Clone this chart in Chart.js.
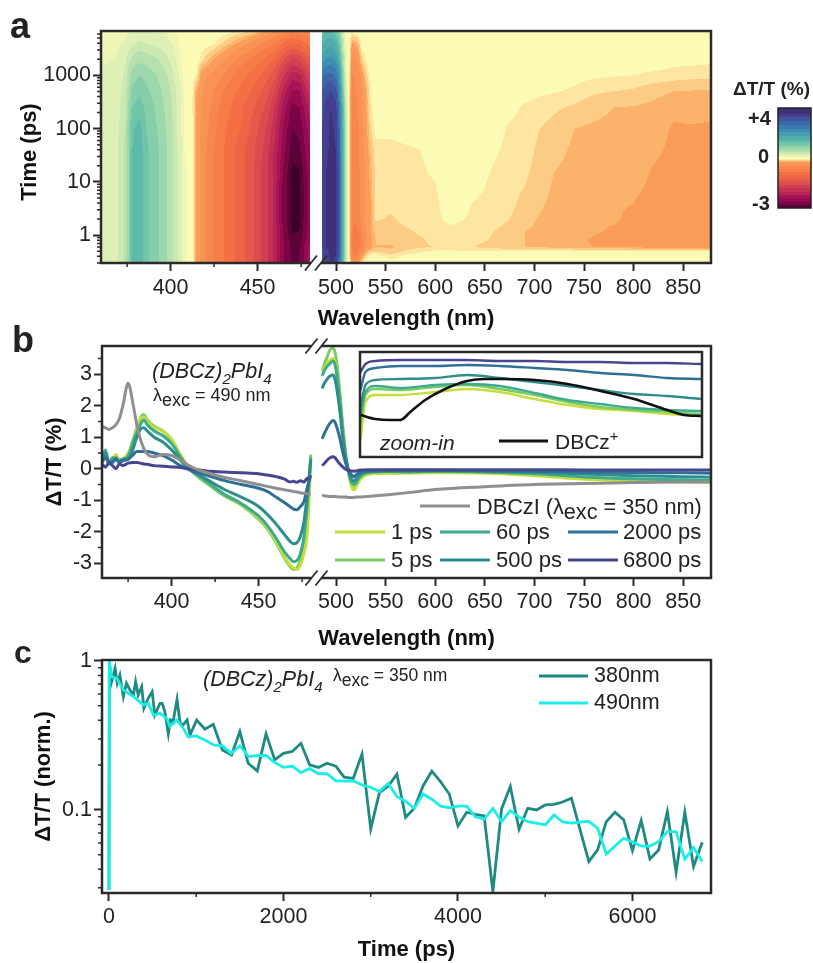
<!DOCTYPE html>
<html>
<head>
<meta charset="utf-8">
<title>Transient absorption of (DBCz)2PbI4</title>
<script src="https://cdn.jsdelivr.net/npm/chart.js@4"></script>
<style>
html, body { margin: 0; padding: 0; background: #fff; }
#page { position: relative; width: 813px; height: 963px; overflow: hidden; font-family: "Liberation Sans", Arial, sans-serif; color: #222; filter: blur(0.4px); }
canvas { position: absolute; }
.lbl { position: absolute; white-space: nowrap; transform: translateY(-50%); line-height: 1; }
.swatch { position: absolute; height: 3px; transform: translateY(-50%); }
sub, sup { line-height: 0; font-size: 70%; }
</style>
</head>
<body>
<div id="page">
  <canvas id="heatChart" width="813" height="332" style="left:0;top:0"></canvas>
  <canvas id="spectraChart" width="813" height="322" style="left:0;top:330px"></canvas>
  <canvas id="insetChart" width="346" height="109" style="left:358px;top:350px"></canvas>
  <canvas id="kineticsChart" width="813" height="318" style="left:0;top:645px"></canvas>
</div>
<script>
// Panel a: time-wavelength map, each row of heatRows is one wavelength at all heatTimes
const heatTimes = [0.3, 0.42, 0.5, 0.6, 0.8, 1.2, 2, 4, 8, 15, 40, 100, 250, 500, 1000, 2000, 4000, 6800];
const heatWave = [360, 368, 374, 378, 382, 386, 390, 395, 400, 404, 408, 412, 415, 418, 425, 432, 440, 448, 455, 460, 465, 470, 474, 480,
    486, 490, 495, 500, 503, 506, 509, 512, 514, 516, 518, 522, 526, 530, 535, 540, 555, 570, 585, 600, 615, 630, 645, 660, 675, 690, 705, 720, 740, 760, 780, 800, 820, 840, 860, 878];
const heatRows = [
    [.22, .22, .22, .22, .22, .22, .22, .22, .22, .22, .22, .22, .22, .22, .22, .18, .15, .12],
    [.26, .26, .26, .26, .26, .26, .26, .26, .26, .26, .26, .26, .25, .25, .24, .2, .15, .12],
    [.55, .55, .55, .55, .55, .55, .55, .55, .55, .55, .55, .5, .45, .42, .38, .32, .22, .15],
    [1.3, 1.3, 1.3, 1.3, 1.3, 1.3, 1.3, 1.3, 1.3, 1.3, 1.3, 1.25, 1.1, .95, .8, .55, .32, .2],
    [1.45, 1.45, 1.45, 1.45, 1.45, 1.45, 1.45, 1.45, 1.45, 1.45, 1.45, 1.4, 1.2, 1.05, .9, .65, .38, .22],
    [1.15, 1.15, 1.15, 1.15, 1.15, 1.15, 1.15, 1.15, 1.15, 1.15, 1.15, 1.1, 1.05, .95, .85, .6, .35, .2],
    [1.0, 1.0, 1.0, 1.0, 1.0, 1.0, 1.0, 1.0, 1.0, 1.0, 1.0, .98, .92, .85, .75, .55, .32, .18],
    [.85, .85, .85, .85, .85, .85, .85, .85, .85, .85, .85, .8, .75, .7, .62, .45, .28, .18],
    [.6, .6, .6, .6, .6, .6, .6, .6, .6, .6, .6, .58, .55, .5, .42, .32, .22, .15],
    [.35, .35, .35, .35, .35, .35, .35, .35, .35, .35, .35, .33, .32, .3, .25, .18, .12, .08],
    [.12, .12, .12, .12, .12, .12, .12, .12, .12, .12, .1, .09, .08, .07, .05, .02, .01, .01],
    [.02, .02, .02, .02, .02, .02, .02, .01, .01, .01, .01, .01, 0, 0, 0, 0, 0, 0],
    [-.22, -.22, -.22, -.22, -.22, -.22, -.22, -.22, -.22, -.22, -.22, -.22, -.22, -.2, -.05, 0, 0, 0],
    [-.36, -.36, -.36, -.36, -.36, -.36, -.36, -.36, -.36, -.36, -.36, -.34, -.32, -.3, -.25, -.07, 0, 0],
    [-.6, -.6, -.6, -.6, -.6, -.6, -.6, -.6, -.6, -.6, -.6, -.55, -.52, -.45, -.35, -.2, -.03, 0],
    [-.85, -.85, -.85, -.85, -.85, -.85, -.85, -.85, -.85, -.85, -.85, -.8, -.72, -.65, -.5, -.32, -.12, -.01],
    [-1.1, -1.1, -1.1, -1.1, -1.1, -1.1, -1.1, -1.1, -1.1, -1.1, -1.1, -1.0, -.95, -.85, -.7, -.5, -.22, -.05],
    [-1.4, -1.4, -1.4, -1.4, -1.4, -1.4, -1.4, -1.4, -1.4, -1.4, -1.38, -1.3, -1.2, -1.05, -.9, -.65, -.35, -.1],
    [-1.75, -1.75, -1.75, -1.75, -1.75, -1.75, -1.75, -1.75, -1.75, -1.75, -1.7, -1.6, -1.45, -1.3, -1.1, -.85, -.5, -.2],
    [-2.1, -2.1, -2.1, -2.1, -2.1, -2.1, -2.1, -2.1, -2.1, -2.1, -2.05, -1.95, -1.8, -1.6, -1.35, -1.0, -.6, -.3],
    [-2.6, -2.6, -2.6, -2.6, -2.6, -2.65, -2.7, -2.7, -2.7, -2.65, -2.55, -2.45, -2.3, -2.1, -1.8, -1.4, -.85, -.4],
    [-2.85, -2.85, -2.85, -2.9, -2.9, -2.97, -3, -3, -3, -3, -2.9, -2.8, -2.65, -2.45, -2.1, -1.65, -1.0, -.5],
    [-2.8, -2.8, -2.8, -2.85, -2.9, -2.95, -3, -3, -3, -2.97, -2.85, -2.75, -2.6, -2.4, -2.05, -1.55, -.95, -.5],
    [-2.3, -2.3, -2.3, -2.3, -2.4, -2.5, -2.5, -2.5, -2.5, -2.5, -2.4, -2.3, -2.1, -1.85, -1.6, -1.2, -.7, -.4],
    [3.0, 3.1, 3.2, 3.3, 3.3, 3.3, 3.3, 3.3, 3.3, 3.3, 3.3, 3.3, 3.2, 3.0, 2.6, 1.9, 1.5, 1.2],
    [3.4, 3.5, 3.5, 3.6, 3.6, 3.6, 3.6, 3.6, 3.6, 3.6, 3.5, 3.5, 3.4, 3.2, 2.8, 2.1, 1.6, 1.3],
    [3.6, 3.7, 3.7, 3.8, 3.8, 3.8, 3.8, 3.8, 3.8, 3.8, 3.7, 3.7, 3.6, 3.3, 2.8, 2.2, 1.7, 1.3],
    [3.5, 3.6, 3.7, 3.7, 3.7, 3.7, 3.7, 3.7, 3.7, 3.7, 3.6, 3.5, 3.4, 3.1, 2.6, 2.0, 1.5, 1.1],
    [2.8, 2.95, 2.95, 2.95, 2.95, 2.95, 2.95, 2.95, 2.95, 2.95, 2.9, 2.9, 2.7, 2.4, 2.1, 1.6, 1.2, .9],
    [1.6, 1.9, 1.9, 1.9, 1.9, 1.9, 1.9, 1.9, 1.9, 1.9, 1.9, 1.85, 1.7, 1.4, 1.2, .9, .65, .4],
    [.6, .8, .8, .8, .8, .8, .8, .8, .8, .8, .8, .78, .7, .5, .4, .3, .2, .12],
    [.03, .04, .05, .05, .05, .05, .05, .05, .05, .05, .05, .05, .05, .04, .03, .02, .02, .01],
    [-.02, -.1, -.12, -.12, -.12, -.1, -.1, -.1, -.1, -.1, -.1, -.1, -.1, -.09, -.07, -.04, -.01, 0],
    [-.25, -.45, -.5, -.55, -.55, -.52, -.5, -.5, -.5, -.5, -.5, -.5, -.5, -.48, -.45, -.38, -.2, -.02],
    [-.4, -.6, -.7, -.75, -.75, -.7, -.55, -.55, -.55, -.55, -.55, -.55, -.52, -.5, -.45, -.38, -.2, 0],
    [-.3, -.5, -.6, -.7, -.7, -.6, -.55, -.5, -.5, -.5, -.5, -.48, -.45, -.42, -.38, -.3, -.15, 0],
    [-.05, -.3, -.4, -.5, -.5, -.45, -.4, -.38, -.38, -.38, -.36, -.35, -.33, -.3, -.25, -.1, 0, 0],
    [0, -.1, -.2, -.3, -.3, -.3, -.28, -.28, -.28, -.27, -.26, -.24, -.22, -.2, -.12, -.03, 0, 0],
    [0, -.03, -.12, -.22, -.22, -.2, -.2, -.2, -.18, -.17, -.14, -.09, -.05, -.03, 0, 0, 0, 0],
    [0, -.02, -.1, -.15, -.15, -.13, -.08, -.07, -.07, -.07, -.06, -.02, 0, 0, 0, 0, 0, 0],
    [0, -.08, -.14, -.16, -.13, -.12, -.1, -.07, -.07, -.07, -.06, -.02, 0, 0, 0, 0, 0, 0],
    [0, -.03, -.08, -.12, -.11, -.1, -.07, -.06, -.06, -.06, -.05, -.01, 0, 0, 0, 0, 0, 0],
    [0, -.02, -.05, -.1, -.1, -.08, -.06, -.06, -.06, -.05, -.04, -.01, 0, 0, 0, 0, 0, 0],
    [0, -.01, -.03, -.09, -.07, -.06, -.05, -.05, -.045, -.03, -.01, 0, 0, 0, 0, 0, 0, 0],
    [0, -.01, -.03, -.09, -.06, -.05, -.03, -.01, 0, 0, 0, 0, 0, 0, 0, 0, 0, 0],
    [0, -.01, -.04, -.07, -.06, -.05, -.04, -.03, -.01, 0, 0, 0, 0, 0, 0, 0, 0, 0],
    [0, -.01, -.04, -.1, -.08, -.07, -.06, -.05, -.03, -.02, -.01, 0, 0, 0, 0, 0, 0, 0],
    [0, -.01, -.04, -.11, -.1, -.09, -.07, -.06, -.06, -.05, -.03, -.01, 0, 0, 0, 0, 0, 0],
    [0, -.01, -.04, -.13, -.12, -.11, -.09, -.07, -.07, -.06, -.06, -.05, -.02, 0, 0, 0, 0, 0],
    [0, -.01, -.03, -.15, -.15, -.15, -.13, -.11, -.09, -.08, -.07, -.06, -.05, -.01, 0, 0, 0, 0],
    [0, -.01, -.03, -.16, -.16, -.16, -.155, -.14, -.12, -.11, -.1, -.09, -.06, -.03, 0, 0, 0, 0],
    [0, -.01, -.03, -.17, -.17, -.17, -.17, -.165, -.16, -.15, -.13, -.11, -.08, -.035, -.01, 0, 0, 0],
    [0, -.01, -.03, -.18, -.18, -.18, -.18, -.18, -.17, -.17, -.16, -.15, -.1, -.05, -.02, 0, 0, 0],
    [0, -.01, -.03, -.2, -.21, -.19, -.19, -.18, -.18, -.18, -.17, -.16, -.13, -.08, -.03, 0, 0, 0],
    [0, -.01, -.03, -.21, -.22, -.21, -.19, -.19, -.18, -.18, -.17, -.165, -.15, -.09, -.035, -.01, 0, 0],
    [0, -.01, -.03, -.22, -.23, -.22, -.22, -.2, -.19, -.18, -.18, -.17, -.155, -.1, -.04, -.01, 0, 0],
    [0, -.01, -.03, -.23, -.24, -.24, -.23, -.22, -.21, -.205, -.19, -.18, -.165, -.13, -.05, -.01, 0, 0],
    [0, -.01, -.03, -.24, -.24, -.24, -.24, -.23, -.23, -.22, -.21, -.205, -.19, -.15, -.06, -.02, 0, 0],
    [0, -.01, -.03, -.24, -.25, -.25, -.24, -.24, -.23, -.23, -.22, -.205, -.18, -.155, -.07, -.02, 0, 0],
    [0, -.01, -.03, -.25, -.25, -.25, -.25, -.24, -.24, -.23, -.22, -.21, -.18, -.155, -.075, -.025, 0, 0]
];
const bandEdges = [-2.95, -2.8, -2.6, -2.4, -2.2, -2, -1.8, -1.6, -1.4, -1.2, -1, -.8, -.6, -.45, -.3, -.2, -.15, -.09, -.04, .1, .2, .35, .5, .7, .9, 1.1, 1.3, 1.5, 1.8, 2.1, 2.4, 2.7, 3, 3.3, 3.6];
const bandColors = ["#3C0029", "#5B0238", "#7B0446", "#960A50", "#A81556", "#B72257", "#C53055", "#D23F52", "#DC4C4E", "#E5584A", "#EE6545", "#F47044", "#F67C48", "#F8874D", "#F99253", "#FA9D5A", "#FBB26B", "#FCCB85", "#FDE5A2",
    "#FCFBB6", "#EFF6B5", "#DFF0B7", "#CCE9B3", "#B6E1AF", "#9DD8AD", "#85CEAA", "#6FC4AA", "#5DB9A9", "#4FADAC", "#459FB0", "#3F8DB2", "#3C7AB0", "#3D67AA", "#4053A0", "#453F92", "#3E3079"];

// Panel b: spectra
const waveB = [360, 362, 364, 366, 368, 370, 372, 375, 378, 380, 382, 384, 386, 390, 395, 400, 405, 410, 415, 420, 430, 440, 450, 455, 460, 465, 468, 470, 472, 474, 476, 478, 480, 483,
    486, 488, 491, 494, 497, 499, 501, 504, 507, 510, 513, 516, 518, 520, 523, 527, 532, 540, 550, 575, 600, 650, 700, 750, 800, 850, 878];
const spec1ps = [.25, .45, .2, .3, .45, .25, .3, .5, .85, 1.25, 1.55, 1.65, 1.5, 1.3, 1.2, .95, .45, .05, -.2, -.4, -.8, -1.12, -1.55, -1.85, -2.3, -2.8, -3.05, -3.15, -3.2, -3.05, -2.7, -2, .2, null,
    3.1, 3.2, 3.35, 3.45, 3.5, 3.4, 3.0, 2.2, 1.2, .4, -.2, -.6, -.67, -.6, -.4, -.25, -.18, -.15, -.15, -.14, -.13, -.14, -.22, -.33, -.38, -.42, -.43];
const spec5ps = [.3, .5, .15, .3, .4, .3, .3, .45, .95, 1.3, 1.6, 1.72, 1.55, 1.35, 1.2, .9, .42, .02, -.25, -.45, -.85, -1.15, -1.6, -1.9, -2.35, -2.85, -3.1, -3.2, -3.15, -2.9, -2.3, -1.2, .45, null,
    3.1, 3.3, 3.55, 3.78, 3.83, 3.7, 3.3, 2.4, 1.3, .4, -.2, -.55, -.62, -.55, -.36, -.22, -.15, -.12, -.12, -.11, -.11, -.13, -.2, -.3, -.35, -.39, -.4];
const spec60ps = [.3, .6, .2, .35, .3, .25, .3, .4, .85, 1.15, 1.4, 1.55, 1.4, 1.2, 1.05, .8, .38, 0, -.2, -.4, -.8, -1.1, -1.5, -1.8, -2.2, -2.65, -2.85, -2.95, -2.92, -2.7, -2.2, -1.1, .35, null,
    2.95, 3.1, 3.25, 3.35, 3.42, 3.3, 2.95, 2.15, 1.15, .35, -.15, -.45, -.5, -.45, -.3, -.18, -.12, -.1, -.09, -.1, -.08, -.1, -.16, -.26, -.32, -.35, -.37];
const spec500ps = [.25, .5, .15, .25, .35, .2, .3, .3, .65, 1.0, 1.25, 1.3, 1.2, 1.0, .85, .6, .28, -.02, -.18, -.33, -.65, -.9, -1.2, -1.45, -1.75, -2.1, -2.3, -2.38, -2.35, -2.15, -1.7, -.8, .3, null,
    2.55, 2.7, 2.85, 2.95, 2.98, 2.85, 2.5, 1.8, .9, .3, -.1, -.35, -.4, -.33, -.2, -.13, -.09, -.08, -.07, -.07, -.06, -.08, -.11, -.17, -.22, -.25, -.27];
const spec2000ps = [.2, .35, .2, .2, .3, .2, .25, .3, .45, .55, .55, .55, .55, .5, .42, .28, .1, -.03, -.12, -.2, -.37, -.5, -.62, -.72, -.9, -1.08, -1.2, -1.28, -1.3, -1.2, -1.05, -.6, -.2, null,
    .95, 1.1, 1.3, 1.45, 1.53, 1.48, 1.3, .95, .5, .15, -.08, -.2, -.25, -.2, -.13, -.09, -.07, -.06, -.05, -.05, -.05, -.06, -.08, -.1, -.12, -.13, -.14];
const spec6800ps = [.15, .05, .2, .1, 0, .15, .1, .18, .2, .2, .18, .15, .14, .1, .08, .06, .04, 0, -.03, -.07, -.1, -.13, -.16, -.2, -.25, -.33, -.42, -.4, -.43, -.38, -.42, -.3, -.3, null,
    .1, .16, .27, .35, .38, .35, .27, .15, .05, -.02, -.05, -.07, -.08, -.07, -.05, -.04, -.03, -.03, -.03, -.03, -.03, -.03, -.03, -.04, -.04, -.04, -.04];
const specDBCzI = [1.35, 1.3, 1.25, 1.3, 1.4, 1.6, 2.0, 2.72, 2.0, 1.4, .95, .65, .47, .38, .45, .42, .28, .1, -.03, -.12, -.27, -.38, -.5, -.56, -.62, -.67, -.7, -.72, -.74, -.76, -.78, -.79, -.8, null,
    -.83, -.86, -.87, -.88, -.88, -.88, -.89, -.9, -.9, -.9, -.91, -.91, -.91, -.9, -.9, -.89, -.88, -.86, -.83, -.75, -.66, -.57, -.5, -.47, -.44, -.42, -.42];

// Panel b inset: hidden y axis, same delay order as the spectra
const insetWave = [525, 530, 540, 565, 600, 632, 665, 700, 733, 766, 800, 833, 867];
const inset1ps = [17, 55, 62, 62, 65, 68, 65, 58, 52, 48, 46, 43, 42];
const inset5ps = [33, 62, 68, 67, 70, 72, 68, 62, 55, 50, 47, 45, 43];
const inset60ps = [40, 65, 71, 69, 72, 73, 71, 64, 57, 53, 49, 47, 46];
const inset500ps = [50, 72, 77, 78, 79, 82, 79, 75, 71, 67, 63, 61, 58];
const inset2000ps = [67, 85, 89, 91, 91, 92, 91, 89, 87, 84, 82, 79, 78];
const inset6800ps = [85, 93, 96, 97, 97, 97, 96, 96, 95, 95, 94, 94, 93];
const cationWave = [525, 540, 555, 565, 575, 590, 610, 632, 650, 665, 700, 733, 766, 800, 833, 850, 867];
const cationVals = [42, 38, 37, 37, 45, 57, 68, 76, 78, 78, 77, 73, 66, 58, 47, 42, 41];

const delayLabels = ["1 ps", "5 ps", "60 ps", "500 ps", "2000 ps", "6800 ps"];
const delayColors = ["#C6DE3C", "#7ACB62", "#3DAB8C", "#2E8E8C", "#2F7096", "#46478F"];
const greyColor = "#8F8F8F";

// Panel c: kinetics
const time380 = [0, 4, 30, 70, 95, 125, 165, 200, 240, 280, 305, 335, 375, 400, 450, 495, 525, 585, 610, 640, 680, 705, 735, 780, 815, 850, 895, 930,
    1005, 1100, 1195, 1300, 1405, 1500, 1595, 1700, 1800, 1900, 2000, 2100, 2200, 2300, 2400, 2500, 2600, 2695, 2800, 2900, 3000, 3100, 3200, 3300,
    3400, 3500, 3600, 3700, 3800, 3900, 4000, 4100, 4200, 4300, 4400, 4500, 4600, 4700, 4800, 4900, 5000, 5100, 5200, 5300, 5500, 5600, 5700, 5800, 5900, 6000, 6100, 6200, 6300, 6400, 6500, 6600, 6700, 6800];
const vals380 = [.029, .964, .727, .893, .708, .805, .576, .708, .639, .591, .727, .591, .673, .481, .562, .622, .434, .52, .52, .457, .324, .402, .391, .553, .382, .372, .402, .319,
    .402, .348, .376, .253, .234, .336, .206, .183, .324, .217, .24, .247, .28, .201, .193, .206, .197, .166, .163, .237, .0746, .131, .144, .174,
    .0893, .1026, .145, .182, .155, .128, .0781, .0965, .0935, .0912, .0283, .1016, .144, .0741, .1026, .1, .108, .109, .113, .12, .045, .0539, .0835, .0965, .0857, .0533, .0848, .0469, .0539, .0975, .0382, .0965, .0417, .0607];
const time490 = [0, 4, 30, 90, 165, 280, 395, 450, 510, 585, 660, 700, 775, 850, 905, 1000, 1100, 1200, 1300, 1400, 1500, 1600, 1700, 1800, 1900, 2000, 2100, 2200, 2300, 2400, 2500, 2600, 2700, 2800, 2900, 3000, 3100, 3200, 3300,
    3400, 3500, 3600, 3700, 3800, 3900, 4000, 4100, 4200, 4300, 4400, 4500, 4600, 4700, 4800, 4900, 5000, 5100, 5200, 5300, 5400, 5500, 5600, 5700, 5800, 5900, 6000, 6100, 6200, 6300, 6400, 6500, 6600, 6700, 6800];
const vals490 = [.029, 1.0, .785, .765, .639, .576, .507, .52, .434, .445, .412, .363, .402, .354, .31, .314, .295, .273, .269, .24, .269, .228, .232, .232, .208, .193, .197, .178, .19, .175, .175, .157, .156, .157, .147, .142, .133, .151, .123,
    .114, .1026, .128, .118, .106, .1035, .106, .106, .09, .0866, .1026, .0835, .099, .09, .0835, .0816, .0793, .0925, .083, .0816, .083, .0837, .0755, .0505, .0572, .0645, .0612, .0572, .0572, .0612, .0716, .0716, .0467, .056, .045];

// x axis with the break between 480 and 486 nm
const breakFrom = 480, breakTo = 486;
class BrokenScale extends Chart.LinearScale {
    static id = "broken";
    static defaults = Chart.LinearScale.defaults;
    // left part is stretched, 1.74 px/nm against 0.992 px/nm
    pieces() {
        const a = this.left, b = this.left + 1.74 * (breakFrom - this.min);
        const d = this.right, c = d - 0.992 * (this.max - breakTo);
        return { a, b, c, d };
    }
    getPixelForValue(v) {
        const p = this.pieces();
        if (v <= breakFrom) return p.a + (v - this.min) / (breakFrom - this.min) * (p.b - p.a);
        if (v >= breakTo) return p.c + (v - breakTo) / (this.max - breakTo) * (p.d - p.c);
        return p.b + (v - breakFrom) / (breakTo - breakFrom) * (p.c - p.b);
    }
    getValueForPixel(x) {
        const p = this.pieces();
        if (x <= p.b) return this.min + (x - p.a) / (p.b - p.a) * (breakFrom - this.min);
        if (x >= p.c) return breakTo + (x - p.c) / (p.d - p.c) * (this.max - breakTo);
        return breakFrom + (x - p.b) / (p.c - p.b) * (breakTo - breakFrom);
    }
}
Chart.register(BrokenScale);

function bandColor(v) {
    let i = 0;
    while (i < bandEdges.length && v >= bandEdges[i]) i++;
    return bandColors[i];
}

function findCell(list, v) {
    let i = 0;
    while (i < list.length - 2 && v > list[i + 1]) i++;
    return i;
}

const logTimes = heatTimes.map(Math.log10);

// filled contour map, pixel values looked up through the chart's scales
const heatPlugin = {
    id: "heatMap",
    beforeDatasetsDraw(chart) {
        const ctx = chart.ctx, area = chart.chartArea, xs = chart.scales.x, ys = chart.scales.y;
        const cols = [];
        for (let px = Math.floor(area.left); px < area.right; px++) {
            const w = xs.getValueForPixel(px + 0.5);
            const i = findCell(heatWave, w);
            cols.push({ px, i, f: (w - heatWave[i]) / (heatWave[i + 1] - heatWave[i]), gap: w > breakFrom && w < breakTo });
        }
        for (let py = Math.floor(area.top); py < area.bottom; py++) {
            const lt = Math.log10(ys.getValueForPixel(py + 0.5));
            const j = findCell(logTimes, lt);
            const g = Math.max(0, Math.min(1, (lt - logTimes[j]) / (logTimes[j + 1] - logTimes[j])));
            let runStart = null, runColor = null;
            for (const c of cols) {
                let col = "#fff";
                if (!c.gap) {
                    const r0 = heatRows[c.i], r1 = heatRows[c.i + 1];
                    const v0 = r0[j] + (r0[j + 1] - r0[j]) * g;
                    const v1 = r1[j] + (r1[j + 1] - r1[j]) * g;
                    col = bandColor(v0 + (v1 - v0) * c.f);
                }
                if (col !== runColor) {
                    if (runColor) { ctx.fillStyle = runColor; ctx.fillRect(runStart, py, c.px - runStart, 1); }
                    runStart = c.px;
                    runColor = col;
                }
            }
            ctx.fillStyle = runColor;
            ctx.fillRect(runStart, py, area.right - runStart, 1);
        }
        // colour bar, zero sits half way up
        const barTop = 108, barBottom = 208, barLeft = 778, barRight = 811;
        for (let py = barTop; py < barBottom; py++) {
            const fr = (py - barTop) / (barBottom - barTop);
            ctx.fillStyle = bandColor(fr < 0.5 ? 4 - fr * 8 : -(fr - 0.5) * 6);
            ctx.fillRect(barLeft, py, barRight - barLeft, 1);
        }
        ctx.strokeStyle = "#222";
        ctx.lineWidth = 1.5;
        ctx.strokeRect(barLeft, barTop, barRight - barLeft, barBottom - barTop);
    }
};

// frame, short minor ticks and the // marks of the axis break
const framePlugin = {
    id: "panelFrame",
    afterDatasetsDraw(chart, args, opts) {
        const ctx = chart.ctx, area = chart.chartArea;
        ctx.save();
        ctx.strokeStyle = "#2a2a2a";
        ctx.lineWidth = 2.5;
        ctx.lineCap = "butt";
        ctx.strokeRect(area.left, area.top, area.right - area.left, area.bottom - area.top);
        ctx.lineWidth = 1.5;
        ctx.beginPath();
        (opts.minorX || []).forEach(v => {
            const x = chart.scales.x.getPixelForValue(v);
            ctx.moveTo(x, area.bottom);
            ctx.lineTo(x, area.bottom + 4);
        });
        (opts.minorY || []).forEach(v => {
            const y = chart.scales.y.getPixelForValue(v);
            ctx.moveTo(area.left, y);
            ctx.lineTo(area.left - 4, y);
        });
        ctx.stroke();
        if (opts.breakAt) {
            const mid = chart.scales.x.getPixelForValue(opts.breakAt);
            const edges = opts.breakTop ? [area.top, area.bottom] : [area.bottom];
            edges.forEach(y => {
                ctx.fillStyle = "#fff";
                ctx.fillRect(mid - 5, y - 2, 10, 4);
                ctx.lineWidth = 1.8;
                ctx.beginPath();
                [-5, 5].forEach(off => {
                    ctx.moveTo(mid + off - 6, y + 7.5);
                    ctx.lineTo(mid + off + 6, y - 7.5);
                });
                ctx.stroke();
            });
        }
        ctx.restore();
    }
};

const tickFont = { size: 21.5, family: "'Liberation Sans', Arial, sans-serif" };
const titleFont = { size: 22, weight: "bold", family: "'Liberation Sans', Arial, sans-serif" };
const gridOpts = { drawOnChartArea: false, drawTicks: true, tickLength: 8, tickWidth: 2, tickColor: "#2a2a2a" };

function xAxis(opts) {
    return Object.assign({
        border: { display: false },
        grid: gridOpts,
        ticks: { font: tickFont, color: "#222", maxRotation: 0, autoSkip: false, padding: opts.tickPad, callback: v => String(v) },
        title: { display: true, text: opts.titleText, font: titleFont, color: "#111", padding: { top: 0, bottom: opts.titleBottom } },
        afterBuildTicks: s => { s.ticks = opts.tickVals.map(v => ({ value: v })); },
        afterFit: s => { s.height = opts.boxHeight; }
    }, opts.scale);
}

function yAxis(opts) {
    return Object.assign({
        border: { display: false },
        grid: gridOpts,
        ticks: { font: tickFont, color: "#222", autoSkip: false, padding: 2, callback: v => String(v) },
        title: { display: !!opts.titleText, text: opts.titleText, font: titleFont, color: "#111", padding: { top: opts.titleLeft, bottom: 0 } },
        afterBuildTicks: s => { s.ticks = opts.tickVals.map(v => ({ value: v })); },
        afterFit: s => { s.width = opts.boxWidth; }
    }, opts.scale);
}

const brokenTicks = [400, 450, 500, 550, 600, 650, 700, 750, 800, 850];
const timeMinor = [.3, .4, .5, .6, .7, .8, .9, 2, 3, 4, 5, 6, 7, 8, 9, 20, 30, 40, 50, 60, 70, 80, 90, 200, 300, 400, 500, 600, 700, 800, 900, 2000, 3000, 4000, 5000, 6000];

new Chart(document.getElementById("heatChart"), {
    type: "line",
    data: { datasets: [{ data: [] }] },
    options: {
        responsive: false,
        animation: false,
        layout: { padding: { top: 31, right: 102, left: 0, bottom: 0 } },
        plugins: {
            legend: { display: false },
            tooltip: { enabled: false },
            panelFrame: { minorX: [375, 425, 475], minorY: timeMinor, breakAt: 483 }
        },
        scales: {
            x: xAxis({ titleText: "Wavelength (nm)", titleBottom: 0, tickPad: 4, boxHeight: 69, tickVals: brokenTicks, scale: { type: "broken", min: 360, max: 878 } }),
            y: yAxis({ boxWidth: 101, tickVals: [1, 10, 100, 1000], scale: { type: "logarithmic", min: 0.3, max: 6800 } })
        }
    },
    plugins: [heatPlugin, framePlugin]
});

function specLine(vals, color) {
    return {
        data: waveB.map((w, i) => ({ x: w, y: vals[i] })),
        borderColor: color,
        borderWidth: 3,
        pointRadius: 0,
        spanGaps: false,
        cubicInterpolationMode: "monotone"
    };
}

new Chart(document.getElementById("spectraChart"), {
    type: "line",
    data: {
        datasets: [
            specLine(specDBCzI, greyColor),
            specLine(spec6800ps, delayColors[5]),
            specLine(spec2000ps, delayColors[4]),
            specLine(spec500ps, delayColors[3]),
            specLine(spec60ps, delayColors[2]),
            specLine(spec1ps, delayColors[0]),
            specLine(spec5ps, delayColors[1])
        ]
    },
    options: {
        responsive: false,
        animation: false,
        layout: { padding: { top: 16, right: 102, left: 0, bottom: 0 } },
        plugins: {
            legend: { display: false },
            tooltip: { enabled: false },
            panelFrame: { minorX: [375, 425, 475], minorY: [3.5, 2.5, 1.5, .5, -.5, -1.5, -2.5], breakAt: 483, breakTop: true }
        },
        scales: {
            x: xAxis({ titleText: "Wavelength (nm)", titleBottom: 0, tickPad: 3, boxHeight: 74, tickVals: brokenTicks, scale: { type: "broken", min: 360, max: 878 } }),
            y: yAxis({ titleText: "ΔT/T (%)", titleLeft: 42, boxWidth: 102, tickVals: [-3, -2, -1, 0, 1, 2, 3], scale: { type: "linear", min: -3.47, max: 3.9 } })
        }
    },
    plugins: [framePlugin]
});

function insetLine(xs, vals, color, width) {
    return { data: xs.map((w, i) => ({ x: w, y: vals[i] })), borderColor: color, borderWidth: width, pointRadius: 0, cubicInterpolationMode: "monotone" };
}

new Chart(document.getElementById("insetChart"), {
    type: "line",
    data: {
        datasets: [
            insetLine(cationWave, cationVals, "#111", 2.6),
            insetLine(insetWave, inset6800ps, delayColors[5], 2.4),
            insetLine(insetWave, inset2000ps, delayColors[4], 2.4),
            insetLine(insetWave, inset500ps, delayColors[3], 2.4),
            insetLine(insetWave, inset60ps, delayColors[2], 2.4),
            insetLine(insetWave, inset5ps, delayColors[1], 2.4),
            insetLine(insetWave, inset1ps, delayColors[0], 2.4)
        ]
    },
    options: {
        responsive: false,
        animation: false,
        layout: { padding: 2 },
        plugins: { legend: { display: false }, tooltip: { enabled: false }, panelFrame: {} },
        scales: {
            x: { type: "linear", display: false, min: 524.5, max: 868 },
            y: { type: "linear", display: false, min: 0, max: 105 }
        }
    },
    plugins: [framePlugin]
});

function kinLine(xs, vals, color) {
    return { data: xs.map((t, i) => ({ x: t, y: vals[i] })), borderColor: color, borderWidth: 2.8, pointRadius: 0 };
}

new Chart(document.getElementById("kineticsChart"), {
    type: "line",
    data: { datasets: [kinLine(time490, vals490, "#1CEDE8"), kinLine(time380, vals380, "#1E8A82")] },
    options: {
        responsive: false,
        animation: false,
        layout: { padding: { top: 15, right: 102, left: 0, bottom: 0 } },
        plugins: {
            legend: { display: false },
            tooltip: { enabled: false },
            panelFrame: {
                minorX: [1000, 3000, 5000],
                minorY: [.9, .8, .7, .6, .5, .4, .3, .2, .09, .08, .07, .06, .05, .04, .03]
            }
        },
        scales: {
            x: xAxis({ titleText: "Time (ps)", titleBottom: 0, tickPad: 3, boxHeight: 70, tickVals: [0, 2000, 4000, 6000], scale: { type: "linear", min: -80, max: 6900 } }),
            y: yAxis({ titleText: "ΔT/T (norm.)", titleLeft: 31, boxWidth: 102, tickVals: [0.1, 1], scale: { type: "logarithmic", min: 0.0277, max: 1.0155 } })
        }
    },
    plugins: [framePlugin]
});

// text and legend keys placed over the charts
const page = document.getElementById("page");
function addLabel(html, x, y, size, extra) {
    const el = document.createElement("div");
    el.className = "lbl";
    el.innerHTML = html;
    el.style.left = x + "px";
    el.style.top = y + "px";
    el.style.fontSize = size + "px";
    if (extra) el.style.cssText += extra;
    page.appendChild(el);
}
function addSwatch(x0, x1, y, color) {
    const el = document.createElement("div");
    el.className = "swatch";
    el.style.cssText = "left:" + x0 + "px;width:" + (x1 - x0) + "px;top:" + y + "px;background:" + color;
    page.appendChild(el);
}
const boldText = "font-weight:bold;";

addLabel("a", 10, 26, 36, boldText);
addLabel("b", 12, 340, 36, boldText);
addLabel("c", 14, 652, 32, boldText);

addLabel("Time (ps)", 29, 152, 22, boldText + "color:#111;transform:translate(-50%,-50%) rotate(-90deg);");

addLabel("ΔT/T (%)", 733, 88, 19, boldText);
addLabel("+4", 748, 118, 20, boldText);
addLabel("0", 758, 156, 20, boldText);
addLabel("-3", 752, 203, 20, boldText);

addLabel("(DBCz)<sub>2</sub>PbI<sub>4</sub>", 152, 372, 21.5, "font-style:italic;");
addLabel("λ<sub style='font-size:100%'>exc</sub> = 490 nm", 153, 395, 18);
addLabel("zoom-in", 380, 442, 21, "font-style:italic;");
addSwatch(499, 548, 441, "#111");
addLabel("DBCz<sup>+</sup>", 555, 441, 21);
addSwatch(420, 470, 506, greyColor);
addLabel("DBCzI (λ<sub style='font-size:100%'>exc</sub> = 350 nm)", 477, 507, 21.7);

const legendX = [[335, 385, 391], [440, 490, 496], [568, 618, 623]];
const legendY = [532, 560];
delayLabels.forEach((txt, i) => {
    const col = legendX[Math.floor(i / 2)], y = legendY[i % 2];
    addSwatch(col[0], col[1], y, delayColors[i]);
    addLabel(txt, col[2], y, 22);
});

addLabel("(DBCz)<sub>2</sub>PbI<sub>4</sub>", 203, 680, 21.5, "font-style:italic;");
addLabel("λ<sub style='font-size:100%'>exc</sub> = 350 nm", 333, 676, 17.5);
addSwatch(539, 588, 676, "#1E8A82");
addSwatch(539, 588, 703, "#1CEDE8");
addLabel("380nm", 594, 676, 21.5);
addLabel("490nm", 594, 703, 21.5);
</script>
</body>
</html>
